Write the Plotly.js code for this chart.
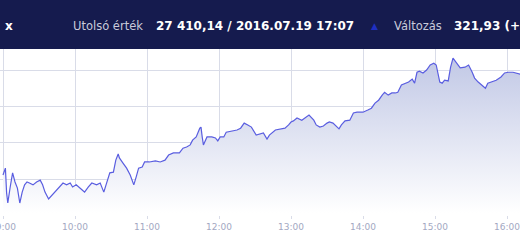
<!DOCTYPE html>
<html>
<head>
<meta charset="utf-8">
<script src="https://cdn.plot.ly/plotly-3.0.1.min.js"></script>
<style>html,body{margin:0;padding:0;background:#fff;}#chart{width:520px;height:245px;}</style>
</head>
<body>
<div id="chart"></div>
<script>
var day = "2016-07-19 ";
var times = ["09:00","09:02","09:03","09:04","09:06","09:08","09:10","09:12","09:14","09:16","09:18","09:20","09:22","09:25","09:28","09:31","09:33","09:35","09:38","09:41","09:43","09:47","09:50","09:53","09:56","09:58",
"10:01","10:06","10:08","10:11","10:14","10:18","10:21","10:24","10:26","10:29","10:32","10:34","10:36","10:37","10:40","10:43","10:46","10:49","10:51","10:53","10:56","10:58",
"11:02","11:07","11:11","11:15","11:18","11:22","11:27","11:30","11:33","11:36","11:38","11:41","11:44","11:45","11:46","11:47","11:50","11:54","11:57","11:59",
"12:01","12:04","12:06","12:11","12:15","12:18","12:21","12:24","12:27","12:31","12:34","12:37","12:40","12:42","12:47","12:51","12:55","12:58",
"13:00","13:02","13:05","13:09","13:12","13:15","13:19","13:21","13:24","13:27","13:30","13:32","13:35","13:38","13:40","13:42","13:45","13:49","13:52","13:55",
"14:00","14:04","14:07","14:10","14:13","14:16","14:18","14:21","14:24","14:27","14:29","14:32","14:35","14:38","14:41","14:43","14:45","14:47","14:50","14:53","14:56","14:59",
"15:01","15:04","15:06","15:08","15:11","15:13","15:15","15:18","15:21","15:25","15:28","15:31","15:33","15:36","15:39","15:42","15:44","15:47","15:51","15:55","15:58",
"16:01","16:05","16:11"];
var values = [27111,27130,27062,27034,27078,27117,27092,27075,27034,27064,27084,27092,27089,27084,27092,27097,27084,27064,27045,27056,27064,27078,27089,27084,27089,27078,
27084,27070,27064,27078,27089,27084,27089,27064,27084,27117,27119,27152,27169,27158,27144,27130,27111,27084,27106,27130,27133,27147,
27147,27150,27147,27152,27166,27172,27172,27185,27188,27194,27207,27216,27240,27243,27216,27194,27216,27216,27213,27205,
27216,27216,27229,27232,27235,27240,27254,27249,27243,27221,27224,27227,27210,27221,27235,27238,27240,27249,
27257,27260,27268,27262,27268,27276,27262,27249,27243,27246,27254,27257,27254,27243,27238,27249,27260,27262,27282,27284,
27284,27290,27295,27309,27317,27331,27339,27331,27337,27337,27339,27359,27364,27367,27375,27364,27394,27397,27392,27400,27414,27419,
27414,27367,27364,27372,27370,27408,27433,27419,27406,27408,27414,27394,27378,27367,27359,27350,27364,27367,27372,27381,27392,
27394,27394,27389];
var tickVals = ["09:00","10:00","11:00","12:00","13:00","14:00","15:00","16:00"];
var yTicks = [27100,27200,27300,27400];
var headerName = "x";
var lastLabel = "Utolsó érték";
var lastValue = "27 410,14 / 2016.07.19 17:07";
var changeLabel = "Változás";
var changeValue = "321,93 (+";

var xs = times.map(function(t){return day + t;});
var trace = {
  x: xs, y: values, type: "scatter", mode: "lines",
  line: {color: "#5a5ee0", width: 1.2},
  fill: "tozeroy",
  fillgradient: {type: "vertical", start: 27005, stop: 27440,
    colorscale: [[0, "rgba(255,255,255,1)"], [1, "#c0c7e5"]]},
  hoverinfo: "skip"
};
var H = 166;
function py(p){ return (215 - p) / H; }
var layout = {
  width: 520, height: 245,
  margin: {l: 0, r: 0, t: 49, b: 30},
  paper_bgcolor: "#ffffff", plot_bgcolor: "#ffffff",
  showlegend: false,
  xaxis: {
    type: "date",
    range: [day + "08:57:30", day + "16:10:50"],
    tickvals: tickVals.map(function(t){return day + t;}),
    ticktext: tickVals,
    ticklabeloverflow: "allow",
    showgrid: true, gridcolor: "#d9dce8", gridwidth: 1,
    ticks: "outside", ticklen: 3, tickcolor: "#d9dce8",
    tickfont: {family: "DejaVu Sans", size: 9, color: "#a3a8c2"},
    zeroline: false, showline: false, fixedrange: true
  },
  yaxis: {
    range: [27001, 27458],
    tickvals: yTicks, showticklabels: false,
    showgrid: true, gridcolor: "#d9dce8", gridwidth: 1,
    zeroline: false, showline: false, fixedrange: true
  },
  shapes: [{type: "rect", xref: "paper", yref: "paper", x0: 0, x1: 1, y0: 1, y1: py(0), fillcolor: "#151b4e", line: {width: 0}, layer: "above"}],
  annotations: [
    {text: "<b>" + headerName + "</b>", xref: "paper", yref: "paper", x: 3/520, y: py(26), xanchor: "left", yanchor: "middle", showarrow: false, font: {family: "DejaVu Sans", size: 12, color: "#ffffff"}},
    {text: lastLabel, xref: "paper", yref: "paper", x: 71/520, y: py(26), xanchor: "left", yanchor: "middle", showarrow: false, font: {family: "DejaVu Sans", size: 11.5, color: "#c9cbdb"}},
    {text: "<b>" + lastValue + "</b>", xref: "paper", yref: "paper", x: 154/520, y: py(26), xanchor: "left", yanchor: "middle", showarrow: false, font: {family: "DejaVu Sans", size: 12, color: "#ffffff"}},
    {text: "▲", xref: "paper", yref: "paper", x: 374/520, y: py(26), xanchor: "center", yanchor: "middle", showarrow: false, font: {family: "DejaVu Sans", size: 9, color: "#1f2fc0"}},
    {text: changeLabel, xref: "paper", yref: "paper", x: 392/520, y: py(26), xanchor: "left", yanchor: "middle", showarrow: false, font: {family: "DejaVu Sans", size: 11.5, color: "#c9cbdb"}},
    {text: "<b>" + changeValue + "</b>", xref: "paper", yref: "paper", x: 452/520, y: py(26), xanchor: "left", yanchor: "middle", showarrow: false, font: {family: "DejaVu Sans", size: 12, color: "#ffffff"}}
  ]
};
Plotly.newPlot("chart", [trace], layout, {displayModeBar: false, staticPlot: true});
</script>
</body>
</html>
